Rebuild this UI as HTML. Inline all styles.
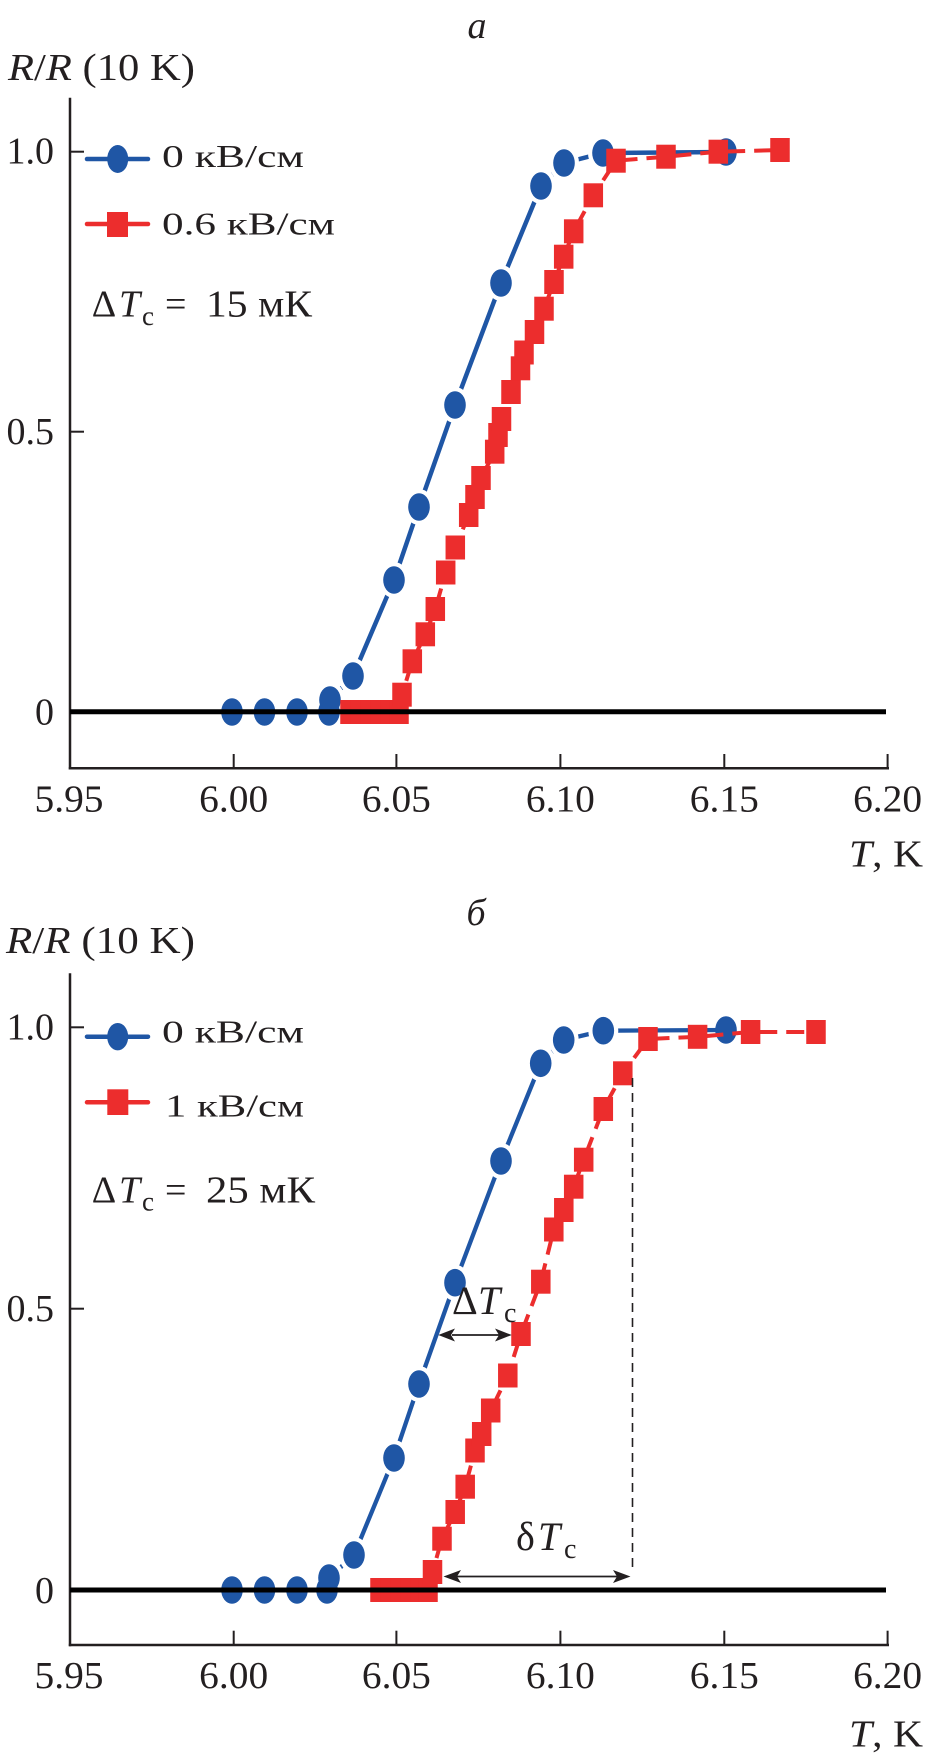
<!DOCTYPE html>
<html>
<head>
<meta charset="utf-8">
<style>
html,body{margin:0;padding:0;background:#fff;}
svg{display:block;}
text{font-family:"Liberation Serif","DejaVu Serif",serif;fill:#231f20;}
.it{font-style:italic;}
</style>
</head>
<body>
<svg width="928" height="1759" viewBox="0 0 928 1759" xmlns="http://www.w3.org/2000/svg">

<!-- ================= PANEL A ================= -->
<text x="477" y="38" font-size="38" class="it" text-anchor="middle">а</text>
<text x="8" y="80" font-size="38" textLength="187" lengthAdjust="spacingAndGlyphs"><tspan class="it">R</tspan>/<tspan class="it">R</tspan> (10 K)</text>

<!-- axes -->
<line x1="70" y1="97.7" x2="70" y2="769.5" stroke="#231f20" stroke-width="2.5"/>
<line x1="68.8" y1="768.3" x2="889" y2="768.3" stroke="#231f20" stroke-width="2.5"/>
<g stroke="#231f20" stroke-width="2">
<line x1="70" y1="151.7" x2="84" y2="151.7"/>
<line x1="70" y1="431.7" x2="84" y2="431.7"/>
<line x1="233.7" y1="754" x2="233.7" y2="768"/>
<line x1="396.4" y1="754" x2="396.4" y2="768"/>
<line x1="560.4" y1="754" x2="560.4" y2="768"/>
<line x1="724.3" y1="754" x2="724.3" y2="768"/>
<line x1="887.6" y1="754" x2="887.6" y2="768"/>
</g>
<g font-size="38" text-anchor="end">
<text x="54" y="163.5">1.0</text>
<text x="54" y="444">0.5</text>
<text x="54" y="724.5">0</text>
</g>
<g font-size="38" text-anchor="middle">
<text x="69" y="811.7" textLength="69" lengthAdjust="spacingAndGlyphs">5.95</text>
<text x="233.7" y="811.7" textLength="69" lengthAdjust="spacingAndGlyphs">6.00</text>
<text x="396.4" y="811.7" textLength="69" lengthAdjust="spacingAndGlyphs">6.05</text>
<text x="560.4" y="811.7" textLength="69" lengthAdjust="spacingAndGlyphs">6.10</text>
<text x="724.3" y="811.7" textLength="69" lengthAdjust="spacingAndGlyphs">6.15</text>
<text x="887.6" y="811.7" textLength="69" lengthAdjust="spacingAndGlyphs">6.20</text>
</g>
<text x="849" y="866.7" font-size="38" textLength="74" lengthAdjust="spacingAndGlyphs"><tspan class="it">T</tspan>, K</text>

<!-- legend a -->
<line x1="87" y1="159" x2="148" y2="159" stroke="#1f56a5" stroke-width="4.5" stroke-linecap="round"/>
<ellipse cx="117.7" cy="159" rx="10.5" ry="14" fill="#1f56a5"/>
<text x="162" y="167" font-size="32" textLength="142" lengthAdjust="spacingAndGlyphs">0 кВ/см</text>
<line x1="87" y1="224" x2="148" y2="224" stroke="#ec2d2d" stroke-width="4.5" stroke-linecap="round"/>
<rect x="107" y="212" width="21" height="25" fill="#ec2d2d"/>
<text x="162" y="234.3" font-size="32" textLength="173" lengthAdjust="spacingAndGlyphs">0.6 кВ/см</text>

<text x="91.7" y="316.7" font-size="38">Δ</text>
<text x="119" y="316.7" font-size="38" class="it">T</text>
<text x="142" y="325" font-size="27">c</text>
<text x="165" y="316.7" font-size="38">=</text>
<text x="206" y="316.7" font-size="38" textLength="106" lengthAdjust="spacingAndGlyphs">15 мК</text>

<!-- blue series a -->
<polyline fill="none" stroke="#1f56a5" stroke-width="4.5" points="232,712 264.5,712 297,712 329,712 330,700 353,676 394,580 419,507 455,405 501,283 541,186 564,163 603,153 726,152"/>
<g fill="#fff">
<ellipse cx="353" cy="676" rx="15" ry="18"/>
<ellipse cx="394" cy="580" rx="15" ry="18"/>
<ellipse cx="419" cy="507" rx="15" ry="18"/>
<ellipse cx="455" cy="405" rx="15" ry="18"/>
<ellipse cx="501" cy="283" rx="15" ry="18"/>
<ellipse cx="541" cy="186" rx="15" ry="18"/>
<ellipse cx="564" cy="163" rx="15" ry="18"/>
<ellipse cx="603" cy="153" rx="15" ry="18"/>
<ellipse cx="330" cy="700" rx="15" ry="18"/>
</g>
<g fill="#1f56a5">
<ellipse cx="232" cy="712" rx="10.8" ry="13.8"/>
<ellipse cx="264.5" cy="712" rx="10.8" ry="13.8"/>
<ellipse cx="297" cy="712" rx="10.8" ry="13.8"/>
<ellipse cx="329" cy="712" rx="10.8" ry="13.8"/>
<ellipse cx="330" cy="700" rx="10.8" ry="13.8"/>
<ellipse cx="353" cy="676" rx="10.8" ry="13.8"/>
<ellipse cx="394" cy="580" rx="10.8" ry="13.8"/>
<ellipse cx="419" cy="507" rx="10.8" ry="13.8"/>
<ellipse cx="455" cy="405" rx="10.8" ry="13.8"/>
<ellipse cx="501" cy="283" rx="10.8" ry="13.8"/>
<ellipse cx="541" cy="186" rx="10.8" ry="13.8"/>
<ellipse cx="564" cy="163" rx="10.8" ry="13.8"/>
<ellipse cx="603" cy="153" rx="10.8" ry="13.8"/>
<ellipse cx="726" cy="152" rx="10.8" ry="13.8"/>
</g>

<!-- red series a -->
<polyline fill="none" stroke="#ec2d2d" stroke-width="4" stroke-dasharray="18 9" points="350,712 399,712 402,694.7 412.3,661.3 425.3,634.3 435.3,609 445.7,572.5 455.3,547.5 468.7,515 475,497 481,478 494.7,451.7 498,435 501.5,419 511,392 520.5,368.3 524,352.5 534.5,332 544,308.7 554,282 563.7,256.7 573.7,231.3 593.3,195.3 616,160.7 666,156.7 718.3,151.7 780,150"/>
<g fill="#ec2d2d">
<rect x="340.25" y="700" width="19.5" height="24"/>
<rect x="350.25" y="700" width="19.5" height="24"/>
<rect x="360.25" y="700" width="19.5" height="24"/>
<rect x="370.25" y="700" width="19.5" height="24"/>
<rect x="380.25" y="700" width="19.5" height="24"/>
<rect x="389.25" y="700" width="19.5" height="24"/>
<rect x="392.25" y="682.7" width="19.5" height="24"/>
<rect x="402.55" y="649.3" width="19.5" height="24"/>
<rect x="415.55" y="622.3" width="19.5" height="24"/>
<rect x="425.55" y="597" width="19.5" height="24"/>
<rect x="435.95" y="560.5" width="19.5" height="24"/>
<rect x="445.55" y="535.5" width="19.5" height="24"/>
<rect x="458.95" y="503" width="19.5" height="24"/>
<rect x="465.25" y="485" width="19.5" height="24"/>
<rect x="471.25" y="466" width="19.5" height="24"/>
<rect x="484.95" y="439.7" width="19.5" height="24"/>
<rect x="488.25" y="423" width="19.5" height="24"/>
<rect x="491.75" y="407" width="19.5" height="24"/>
<rect x="501.25" y="380" width="19.5" height="24"/>
<rect x="510.75" y="356.3" width="19.5" height="24"/>
<rect x="514.25" y="340.5" width="19.5" height="24"/>
<rect x="524.75" y="320" width="19.5" height="24"/>
<rect x="534.25" y="296.7" width="19.5" height="24"/>
<rect x="544.25" y="270" width="19.5" height="24"/>
<rect x="553.95" y="244.7" width="19.5" height="24"/>
<rect x="563.95" y="219.3" width="19.5" height="24"/>
<rect x="583.55" y="183.3" width="19.5" height="24"/>
<rect x="606.25" y="148.7" width="19.5" height="24"/>
<rect x="656.25" y="144.7" width="19.5" height="24"/>
<rect x="708.55" y="139.7" width="19.5" height="24"/>
<rect x="770.25" y="138" width="19.5" height="24"/>
</g>

<!-- zero line a -->
<line x1="70" y1="711.7" x2="886" y2="711.7" stroke="#000" stroke-width="5"/>

<!-- ================= PANEL B ================= -->
<text x="476" y="925" font-size="38" class="it" text-anchor="middle">б</text>
<text x="6" y="953" font-size="38" textLength="189" lengthAdjust="spacingAndGlyphs"><tspan class="it">R</tspan>/<tspan class="it">R</tspan> (10 K)</text>

<line x1="70" y1="973.3" x2="70" y2="1646.2" stroke="#231f20" stroke-width="2.5"/>
<line x1="68.8" y1="1645" x2="889" y2="1645" stroke="#231f20" stroke-width="2.5"/>
<g stroke="#231f20" stroke-width="2">
<line x1="70" y1="1027.3" x2="84" y2="1027.3"/>
<line x1="70" y1="1308.7" x2="84" y2="1308.7"/>
<line x1="233.7" y1="1630.7" x2="233.7" y2="1645"/>
<line x1="396.4" y1="1630.7" x2="396.4" y2="1645"/>
<line x1="560.4" y1="1630.7" x2="560.4" y2="1645"/>
<line x1="724.3" y1="1630.7" x2="724.3" y2="1645"/>
<line x1="887.6" y1="1630.7" x2="887.6" y2="1645"/>
</g>
<g font-size="38" text-anchor="end">
<text x="54" y="1039.5">1.0</text>
<text x="54" y="1321">0.5</text>
<text x="54" y="1603">0</text>
</g>
<g font-size="38" text-anchor="middle">
<text x="69" y="1688" textLength="69" lengthAdjust="spacingAndGlyphs">5.95</text>
<text x="233.7" y="1688" textLength="69" lengthAdjust="spacingAndGlyphs">6.00</text>
<text x="396.4" y="1688" textLength="69" lengthAdjust="spacingAndGlyphs">6.05</text>
<text x="560.4" y="1688" textLength="69" lengthAdjust="spacingAndGlyphs">6.10</text>
<text x="724.3" y="1688" textLength="69" lengthAdjust="spacingAndGlyphs">6.15</text>
<text x="887.6" y="1688" textLength="69" lengthAdjust="spacingAndGlyphs">6.20</text>
</g>
<text x="849" y="1746.7" font-size="38" textLength="74" lengthAdjust="spacingAndGlyphs"><tspan class="it">T</tspan>, K</text>

<!-- legend b -->
<line x1="87" y1="1036.7" x2="148" y2="1036.7" stroke="#1f56a5" stroke-width="4.5" stroke-linecap="round"/>
<ellipse cx="117.7" cy="1036.7" rx="10.5" ry="13.7" fill="#1f56a5"/>
<text x="162" y="1042.7" font-size="32" textLength="142" lengthAdjust="spacingAndGlyphs">0 кВ/см</text>
<line x1="87" y1="1102.3" x2="148" y2="1102.3" stroke="#ec2d2d" stroke-width="4.5" stroke-linecap="round"/>
<rect x="107.3" y="1089.3" width="21" height="25.7" fill="#ec2d2d"/>
<text x="165" y="1116.7" font-size="32" textLength="139" lengthAdjust="spacingAndGlyphs">1 кВ/см</text>

<text x="91.7" y="1202.3" font-size="38">Δ</text>
<text x="119" y="1202.3" font-size="38" class="it">T</text>
<text x="142" y="1210.7" font-size="27">c</text>
<text x="165" y="1202.3" font-size="38">=</text>
<text x="206" y="1202.3" font-size="38" textLength="109" lengthAdjust="spacingAndGlyphs">25 мК</text>

<!-- blue series b -->
<polyline fill="none" stroke="#1f56a5" stroke-width="4.3" points="232,1590 264.5,1590 297,1590 327,1590 329,1578 354,1555 394,1458 419,1384 455,1282.7 501,1161 540.7,1063.3 563.7,1040 603.3,1030.7 726,1030"/>
<g fill="#fff">
<ellipse cx="329" cy="1578" rx="15" ry="18"/>
<ellipse cx="354" cy="1555" rx="15" ry="18"/>
<ellipse cx="394" cy="1458" rx="15" ry="18"/>
<ellipse cx="419" cy="1384" rx="15" ry="18"/>
<ellipse cx="455" cy="1282.7" rx="15" ry="18"/>
<ellipse cx="501" cy="1161" rx="15" ry="18"/>
<ellipse cx="540.7" cy="1063.3" rx="15" ry="18"/>
<ellipse cx="563.7" cy="1040" rx="15" ry="18"/>
<ellipse cx="603.3" cy="1030.7" rx="15" ry="18"/>
</g>
<g fill="#1f56a5">
<ellipse cx="232" cy="1590" rx="10.8" ry="13.8"/>
<ellipse cx="264.5" cy="1590" rx="10.8" ry="13.8"/>
<ellipse cx="297" cy="1590" rx="10.8" ry="13.8"/>
<ellipse cx="327" cy="1590" rx="10.8" ry="13.8"/>
<ellipse cx="329" cy="1578" rx="10.8" ry="13.8"/>
<ellipse cx="354" cy="1555" rx="10.8" ry="13.8"/>
<ellipse cx="394" cy="1458" rx="10.8" ry="13.8"/>
<ellipse cx="419" cy="1384" rx="10.8" ry="13.8"/>
<ellipse cx="455" cy="1282.7" rx="10.8" ry="13.8"/>
<ellipse cx="501" cy="1161" rx="10.8" ry="13.8"/>
<ellipse cx="540.7" cy="1063.3" rx="10.8" ry="13.8"/>
<ellipse cx="563.7" cy="1040" rx="10.8" ry="13.8"/>
<ellipse cx="603.3" cy="1030.7" rx="10.8" ry="13.8"/>
<ellipse cx="726" cy="1030" rx="10.8" ry="13.8"/>
</g>

<!-- red series b -->
<polyline fill="none" stroke="#ec2d2d" stroke-width="4" stroke-dasharray="18 9" points="380,1590 428,1590 432.5,1572 442,1538.7 455.2,1512 465.2,1486.7 475,1450.5 481.7,1434 490.7,1410.5 507.8,1375.5 521,1334 540.8,1281.7 553.8,1229.5 563.8,1210 573.7,1186.7 583.7,1159.7 603.3,1109 622.8,1073.3 648,1039 697.6,1036.8 750.6,1032 816,1032"/>
<g fill="#ec2d2d">
<rect x="370.25" y="1578" width="19.5" height="24"/>
<rect x="380.25" y="1578" width="19.5" height="24"/>
<rect x="390.25" y="1578" width="19.5" height="24"/>
<rect x="400.25" y="1578" width="19.5" height="24"/>
<rect x="410.25" y="1578" width="19.5" height="24"/>
<rect x="418.25" y="1578" width="19.5" height="24"/>
<rect x="422.75" y="1560" width="19.5" height="24"/>
<rect x="432.25" y="1526.7" width="19.5" height="24"/>
<rect x="445.45" y="1500" width="19.5" height="24"/>
<rect x="455.45" y="1474.7" width="19.5" height="24"/>
<rect x="465.25" y="1438.5" width="19.5" height="24"/>
<rect x="471.95" y="1422" width="19.5" height="24"/>
<rect x="480.95" y="1398.5" width="19.5" height="24"/>
<rect x="498.05" y="1363.5" width="19.5" height="24"/>
<rect x="511.25" y="1322" width="19.5" height="24"/>
<rect x="531.05" y="1269.7" width="19.5" height="24"/>
<rect x="544.05" y="1217.5" width="19.5" height="24"/>
<rect x="554.05" y="1198" width="19.5" height="24"/>
<rect x="563.95" y="1174.7" width="19.5" height="24"/>
<rect x="573.95" y="1147.7" width="19.5" height="24"/>
<rect x="593.55" y="1097" width="19.5" height="24"/>
<rect x="613.05" y="1061.3" width="19.5" height="24"/>
<rect x="638.25" y="1027" width="19.5" height="24"/>
<rect x="687.85" y="1024.8" width="19.5" height="24"/>
<rect x="740.85" y="1020" width="19.5" height="24"/>
<rect x="806.25" y="1020" width="19.5" height="24"/>
</g>

<!-- dashed vertical -->
<line x1="632.5" y1="1078" x2="632.5" y2="1570" stroke="#231f20" stroke-width="1.6" stroke-dasharray="9 6"/>

<!-- ΔTc arrow -->
<line x1="452" y1="1335" x2="503" y2="1335" stroke="#231f20" stroke-width="1.8"/>
<polygon points="438.3,1335 455,1328.5 451,1335 455,1341.5" fill="#231f20"/>
<polygon points="511.7,1335 495,1328.5 499,1335 495,1341.5" fill="#231f20"/>
<text x="452" y="1314" font-size="40">Δ</text>
<text x="478" y="1314" font-size="40" class="it">T</text>
<text x="504" y="1322" font-size="28">c</text>

<!-- δTc arrow -->
<line x1="457" y1="1576.5" x2="617" y2="1576.5" stroke="#231f20" stroke-width="1.8"/>
<polygon points="443.5,1576.5 461,1570 457,1576.5 461,1583" fill="#231f20"/>
<polygon points="630.5,1576.5 613,1570 617,1576.5 613,1583" fill="#231f20"/>
<text x="516" y="1550" font-size="40">δ</text>
<text x="538" y="1550" font-size="40" class="it">T</text>
<text x="564" y="1558" font-size="28">c</text>

<!-- zero line b -->
<line x1="70" y1="1590" x2="886" y2="1590" stroke="#000" stroke-width="5"/>

</svg>
</body>
</html>
